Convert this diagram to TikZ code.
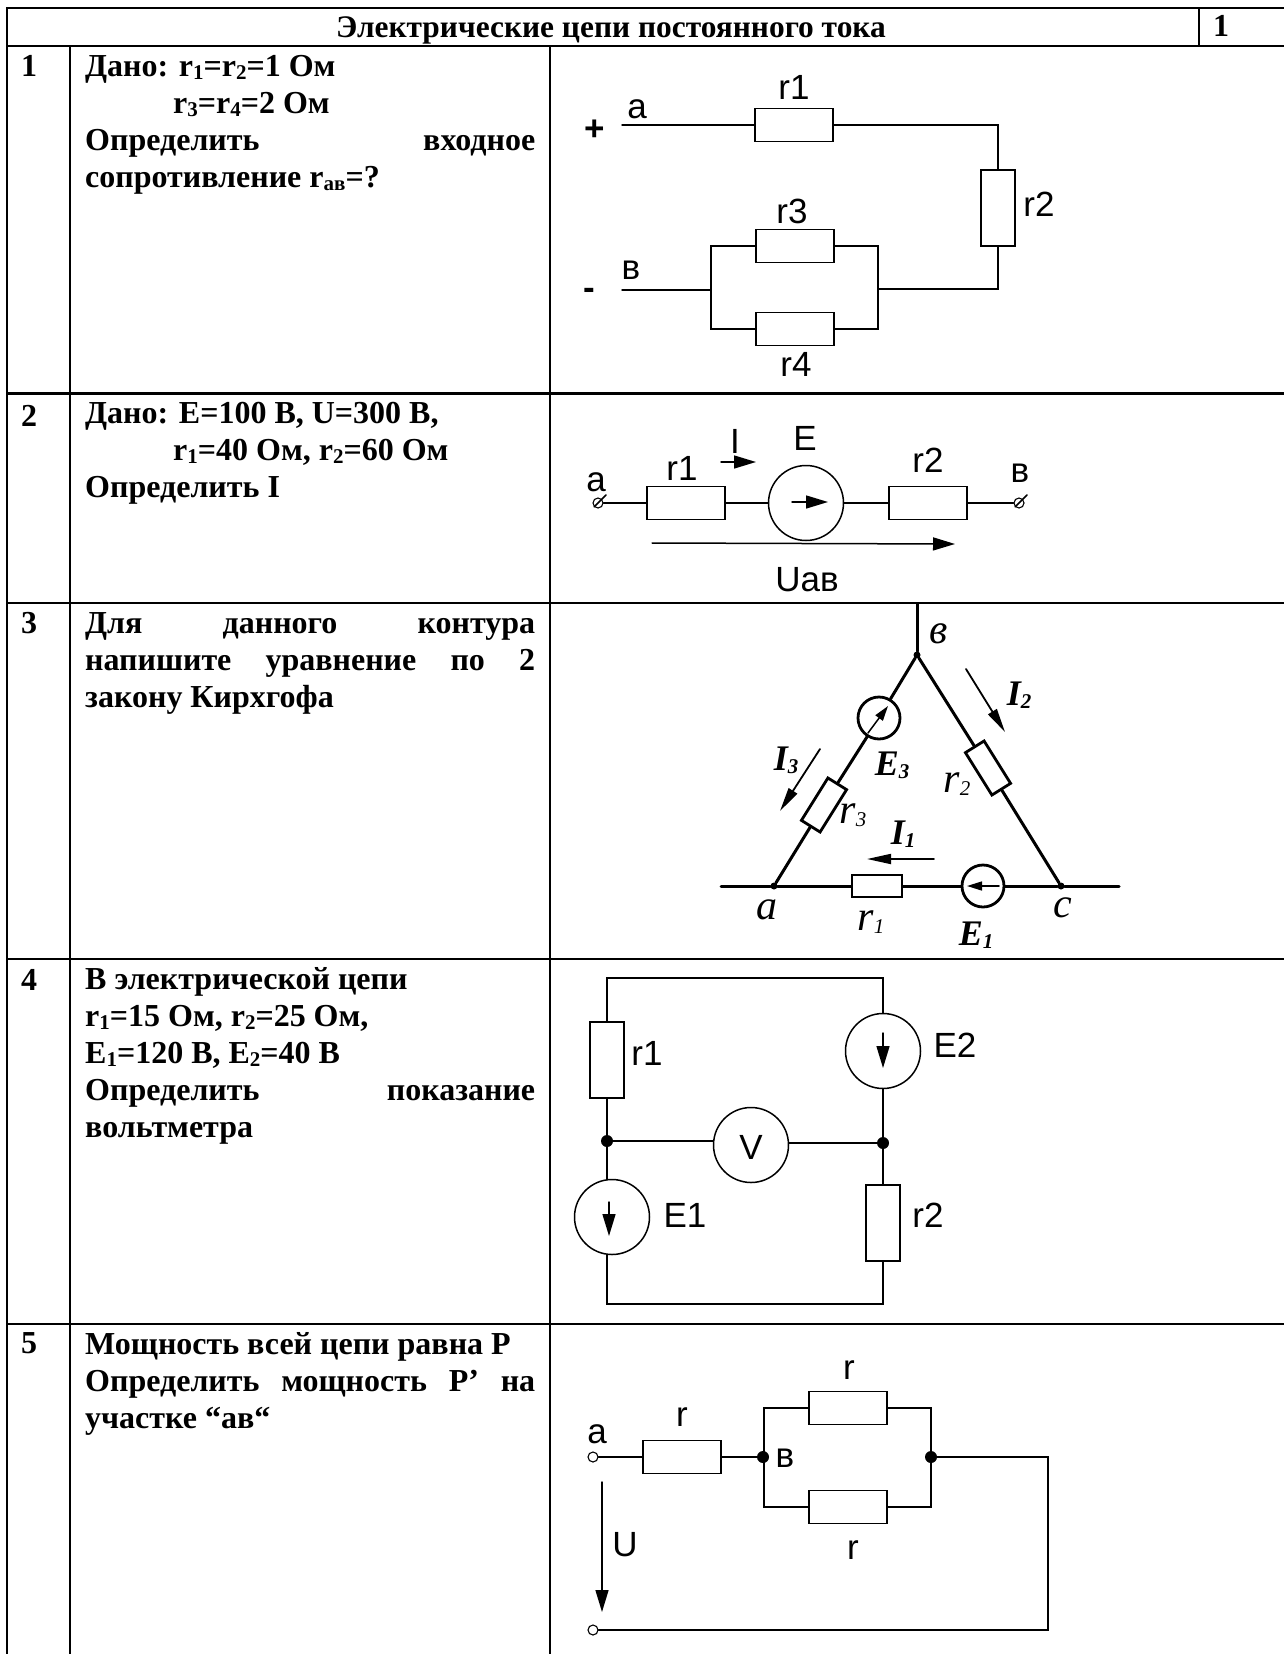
\documentclass[tikz,border=0pt]{standalone}
\usepackage{fontspec}
\setmainfont{Liberation Serif}
\setsansfont{Liberation Sans}
\usetikzlibrary{arrows.meta}
\newcommand{\lowidx}[1]{\raisebox{-3pt}{\fontsize{21}{21}\selectfont #1}}
\tikzstyle{tablerule}=[line width=2.2pt,line cap=rect]
\tikzstyle{celltext}=[anchor=north west,inner sep=0pt,text width=450pt,align=justify,font=\fontsize{32}{37}\selectfont\bfseries,execute at begin node=\strut]
\tikzstyle{cellnum}=[anchor=base west,inner sep=0pt,font=\fontsize{32}{37}\selectfont\bfseries]
\tikzstyle{wire}=[line width=1.5pt,line cap=round,line join=miter]
\tikzstyle{thickwire}=[line width=3pt,line cap=round]
\tikzstyle{hres}=[draw,line width=1.5pt,rectangle,inner sep=0pt,minimum width=78pt,minimum height=33pt]
\tikzstyle{vres}=[draw,line width=1.5pt,rectangle,inner sep=0pt,minimum width=34pt,minimum height=76pt]
\tikzstyle{source}=[draw,line width=1.5pt,circle,inner sep=0pt,minimum size=75pt]
\tikzstyle{thicksource}=[draw,line width=2.8pt,circle,inner sep=0pt,minimum size=42pt]
\tikzstyle{thickres}=[draw,line width=2.8pt,rectangle,inner sep=0pt,minimum width=50pt,minimum height=22pt]
\tikzstyle{dotnode}=[circle,fill=black,inner sep=0pt,minimum size=12pt]
\tikzstyle{smalldot}=[circle,fill=black,inner sep=0pt,minimum size=7pt]
\tikzstyle{termnode}=[draw,line width=1.1pt,circle,inner sep=0pt,minimum size=10pt]
\tikzstyle{wirelabel}=[inner sep=0pt,font=\fontsize{35}{35}\selectfont\sffamily]
\tikzstyle{polarity}=[inner sep=0pt,font=\fontsize{35}{35}\selectfont\sffamily\bfseries]
\tikzstyle{handlabel}=[inner sep=0pt,font=\fontsize{36}{36}\selectfont\itshape\bfseries]
\tikzstyle{handsmall}=[inner sep=0pt,font=\fontsize{42}{42}\selectfont\itshape]
\tikzstyle{smallhead}=[>={Triangle[length=15pt,width=9pt]}]
\tikzstyle{bighead}=[>={Triangle[length=22pt,width=13pt]}]
\tikzstyle{longhead}=[line width=1.8pt,>={Triangle[length=24pt,width=10pt]}]
\begin{document}
\begin{tikzpicture}[x=1pt,y=-1pt]
\useasboundingbox (0,0) rectangle (1284,1654);
% table
\draw[tablerule] (7,8) -- (1284,8);
\foreach \rowy in {46,393.5,959,1324} \draw[tablerule] (7,\rowy) -- (1284,\rowy);
\draw[tablerule] (7,603) -- (702,603);
\draw[line width=1.2pt] (702,603) -- (1133,603);
\draw[tablerule] (1133,603) -- (1284,603);
\foreach \colx in {7,70,550} \draw[tablerule] (\colx,46) -- (\colx,1654);
\draw[tablerule] (7,8) -- (7,46);
\draw[tablerule] (1199,8) -- (1199,46);
\node[cellnum,anchor=base,font=\fontsize{31.4}{37}\selectfont\bfseries] (title) at (611,38) {Электрические цепи постоянного тока};
\node[cellnum] (sheetnum) at (1213,37) {1};
% row numbers
\node[cellnum] (num1) at (21,77) {1};
\node[cellnum] (num2) at (21,426) {2};
\node[cellnum] (num3) at (21,633) {3};
\node[cellnum] (num4) at (21,990) {4};
\node[cellnum] (num5) at (21,1353) {5};
% task texts
\node[celltext] (task1) at (85,50.5) {Дано: r\lowidx{1}=r\lowidx{2}=1 Ом\\
\hspace*{88pt}r\lowidx{3}=r\lowidx{4}=2 Ом\\
Определить\hfill входное\\
сопротивление r\lowidx{ав}=?};
\node[celltext] (task2) at (85,397.5) {Дано: E=100 В, U=300 В,\\
\hspace*{88pt}r\lowidx{1}=40 Ом, r\lowidx{2}=60 Ом\\
Определить I};
\node[celltext] (task3) at (85,607) {Для\hfill данного\hfill контура\\
напишите\hfill уравнение\hfill по\hfill 2\\
закону Кирхгофа};
\node[celltext] (task4) at (85,963) {В электрической цепи\\
r\lowidx{1}=15 Ом, r\lowidx{2}=25 Ом,\\
E\lowidx{1}=120 В, E\lowidx{2}=40 В\\
Определить\hfill показание\\
вольтметра};
\node[celltext] (task5) at (85,1328) {Мощность всей цепи равна Р\\
Определить\hfill мощность\hfill Р’\hfill на\\
участке “ав“};
% circuit 1
\node[hres] (r1a) at (794,125) {};
\node[vres] (r2a) at (998,208) {};
\node[hres] (r3a) at (795,246) {};
\node[hres] (r4a) at (795,329) {};
\coordinate (ina) at (622,125);
\coordinate (inb) at (622,290);
\coordinate (c1a) at (998,125);
\coordinate (c1b) at (998,289);
\coordinate (c1c) at (878,289);
\coordinate (c1d) at (711,290);
\coordinate (c1e) at (711,246);
\coordinate (c1f) at (711,329);
\coordinate (c1g) at (878,246);
\coordinate (c1h) at (878,329);
\draw[wire] (ina) -- (r1a.west);
\draw[wire] (r1a.east) -- (c1a) -- (r2a.north);
\draw[wire] (r2a.south) -- (c1b) -- (c1c);
\draw[wire] (inb) -- (c1d);
\draw[wire] (r3a.west) -- (c1e) -- (c1f) -- (r4a.west);
\draw[wire] (r3a.east) -- (c1g) -- (c1h) -- (r4a.east);
\node[polarity] (plus1) at (595,130) {+};
\node[polarity] (minus1) at (589,294) {-};
\node[wirelabel] (la1) at (637,109) {a};
\node[wirelabel] (lb1) at (631,270) {в};
\node[wirelabel] (lr1a) at (794,87) {r1};
\node[wirelabel] (lr2a) at (1039,204) {r2};
\node[wirelabel] (lr3a) at (792,211) {r3};
\node[wirelabel] (lr4a) at (796,364) {r4};
% circuit 2
\node[termnode] (ta2) at (598,503) {};
\node[termnode] (tb2) at (1019,503) {};
\draw[wire] (ta2.south west) -- ++(12,-12);
\draw[wire] (tb2.south west) -- ++(12,-12);
\node[hres] (r1b) at (686,503) {};
\node[hres] (r2b) at (928,503) {};
\node[source] (e2b) at (806,503) {};
\draw[wire] (ta2) -- (r1b.west);
\draw[wire] (r1b.east) -- (e2b);
\draw[wire] (e2b) -- (r2b.west);
\draw[wire] (r2b.east) -- (tb2);
\coordinate (e2bl) at (792,502);
\coordinate (e2br) at (828,502);
\draw[wire,bighead,->] (e2bl) -- (e2br);
\coordinate (il2) at (721,462);
\coordinate (ir2) at (756,462);
\draw[wire,bighead,->] (il2) -- (ir2);
\coordinate (ul2) at (652,543);
\coordinate (ur2) at (955,544);
\draw[wire,bighead,->] (ul2) -- (ur2);
\node[wirelabel] (la2) at (596,482) {a};
\node[wirelabel] (lb2) at (1020,473) {в};
\node[wirelabel] (lr1b) at (682,468) {r1};
\node[wirelabel] (lr2b) at (928,460) {r2};
\node[wirelabel] (li2) at (735,441) {I};
\node[wirelabel] (le2) at (805,438) {E};
\node[wirelabel] (lu2) at (807,580) {Uав};
% circuit 3
\coordinate (top3) at (917,604);
\coordinate (left3) at (721,886);
\coordinate (right3) at (1119,886);
\node[smalldot] (nb3) at (917,655) {};
\node[smalldot] (na3) at (774,886) {};
\node[smalldot] (nc3) at (1061,886) {};
\node[thicksource] (e3c) at (879,718) {};
\node[thicksource] (e1c) at (983,886) {};
\node[thickres,rotate=58] (r3c) at (824,805) {};
\node[thickres,rotate=-58] (r2c) at (988,768) {};
\node[thickres] (r1c) at (877,886) {};
\draw[thickwire] (top3) -- (nb3);
\draw[thickwire] (nb3) -- (e3c);
\draw[thickwire] (e3c) -- (r3c.east);
\draw[thickwire] (r3c.west) -- (na3);
\draw[thickwire] (nb3) -- (r2c.west);
\draw[thickwire] (r2c.east) -- (nc3);
\draw[thickwire] (left3) -- (na3) -- (r1c.west);
\draw[thickwire] (r1c.east) -- (e1c);
\draw[thickwire] (e1c) -- (nc3) -- (right3);
\coordinate (e3a) at (868,733);
\coordinate (e3b) at (888,706);
\draw[wire,smallhead,->] (e3a) -- (e3b);
\coordinate (e1a) at (999,886);
\coordinate (e1b) at (967,886);
\draw[wire,smallhead,->] (e1a) -- (e1b);
\coordinate (i1a) at (934,859);
\coordinate (i1b) at (867,859);
\draw[wire,longhead,->] (i1a) -- (i1b);
\coordinate (i2a) at (966,669);
\coordinate (i2b) at (1005,732);
\draw[wire,longhead,->] (i2a) -- (i2b);
\coordinate (i3a) at (820,749);
\coordinate (i3b) at (780,811);
\draw[wire,longhead,->] (i3a) -- (i3b);
\node[handsmall] (lb3) at (939,634) {в};
\node[handsmall] (la3) at (767,910) {a};
\node[handsmall] (lc3) at (1063,908) {c};
\node[handlabel] (li1) at (903,834) {I\lowidx{1}};
\node[handlabel] (li2c) at (1019,695) {I\lowidx{2}};
\node[handlabel] (li3) at (786,760) {I\lowidx{3}};
\node[handlabel] (le3) at (892,765) {E\lowidx{3}};
\node[handlabel] (le1) at (976,935) {E\lowidx{1}};
\node[handsmall] (lr1c) at (871,922) {r\lowidx{1}};
\node[handsmall] (lr2c) at (957,784) {r\lowidx{2}};
\node[handsmall] (lr3c) at (853,815) {r\lowidx{3}};
% circuit 4
\node[vres] (r1d) at (607,1060) {};
\node[vres] (r2d) at (883,1223) {};
\node[source] (e2d) at (883,1051) {};
\node[source] (e1d) at (612,1217) {};
\node[source] (vd) at (751,1145) {};
\node[dotnode] (n1d) at (607,1141) {};
\node[dotnode] (n2d) at (883,1143) {};
\coordinate (c4a) at (607,978);
\coordinate (c4b) at (883,978);
\coordinate (c4c) at (607,1304);
\coordinate (c4d) at (883,1304);
\draw[wire] (r1d.north) -- (c4a) -- (c4b) -- (e2d.north);
\draw[wire] (r1d.south) -- (n1d);
\draw[wire] (n1d) -- (n1d |- e1d.north);
\draw[wire] (c4c |- e1d.south) -- (c4c) -- (c4d) -- (r2d.south);
\draw[wire] (r2d.north) -- (n2d);
\draw[wire] (n2d) -- (e2d.south);
\draw[wire] (n1d) -- (vd.west |- n1d);
\draw[wire] (vd.east |- n2d) -- (n2d);
\coordinate (e2a) at (883,1033);
\coordinate (e2c) at (883,1068);
\draw[wire,bighead,->] (e2a) -- (e2c);
\coordinate (e1e) at (609,1202);
\coordinate (e1f) at (609,1236);
\draw[wire,bighead,->] (e1e) -- (e1f);
\node[wirelabel] (lr1d) at (647,1053) {r1};
\node[wirelabel] (le2d) at (955,1045) {E2};
\node[wirelabel] (lvd) at (751,1147) {V};
\node[wirelabel] (le1d) at (685,1215) {E1};
\node[wirelabel] (lr2d) at (928,1215) {r2};
% circuit 5
\node[termnode] (ta5) at (593,1457) {};
\node[termnode] (tb5) at (593,1630) {};
\node[hres] (r1e) at (682,1457) {};
\node[hres] (r2e) at (848,1408) {};
\node[hres] (r3e) at (848,1507) {};
\node[dotnode] (n1e) at (763,1457) {};
\node[dotnode] (n2e) at (931,1457) {};
\coordinate (c5a) at (764,1408);
\coordinate (c5b) at (764,1507);
\coordinate (c5c) at (931,1408);
\coordinate (c5d) at (931,1507);
\coordinate (c5e) at (1048,1457);
\coordinate (c5f) at (1048,1630);
\draw[wire] (ta5) -- (r1e.west);
\draw[wire] (r1e.east) -- (n1e);
\draw[wire] (r2e.west) -- (c5a) -- (c5b) -- (r3e.west);
\draw[wire] (r2e.east) -- (c5c) -- (c5d) -- (r3e.east);
\draw[wire] (n2e) -- (c5e) -- (c5f) -- (tb5);
\coordinate (u5a) at (602,1482);
\coordinate (u5b) at (602,1612);
\draw[wire,bighead,->] (u5a) -- (u5b);
\node[wirelabel] (la5) at (597,1434) {a};
\node[wirelabel] (lb5) at (785,1458) {в};
\node[wirelabel] (lr1e) at (682,1417) {r};
\node[wirelabel] (lr2e) at (849,1370) {r};
\node[wirelabel] (lr3e) at (853,1550) {r};
\node[wirelabel] (lu5) at (625,1545) {U};
\end{tikzpicture}
\end{document}
